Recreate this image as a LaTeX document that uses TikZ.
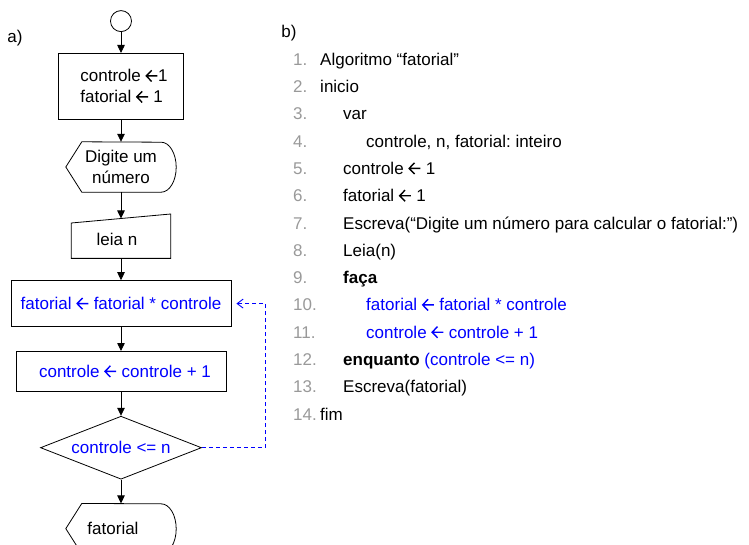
\documentclass[tikz,border=0pt]{standalone}
\usepackage{fontspec}
\setmainfont{Liberation Sans}
\usetikzlibrary{arrows,arrows.meta,shapes.geometric}

% seta de atribuicao
\newcommand{\seta}{\tikz[baseline=0pt, x=1pt, y=1pt, line width=1.4pt]
  \draw (12,6) -- (0.8,6) (6.2,11.6) -- (0.8,6) -- (6.2,0.4);}

\newcommand{\dispoutline}[1]{%
  \draw[outline] ([xshift=16pt]#1.north west) -- (#1.west)
    -- ([xshift=16pt]#1.south west) -- ([xshift=-15pt]#1.south east)
    arc[start angle=-90, end angle=90, x radius=15pt, y radius=25pt] -- cycle;}

\begin{document}
\frenchspacing
\begin{tikzpicture}[x=1pt, y=-1pt,
    every node/.style={font=\fontsize{17}{21}\selectfont},
    outline/.style={line width=0.8pt},
    flow/.style={-{Triangle[length=8pt,width=7.5pt]}, line width=0.8pt},
    box/.style={draw, line width=0.8pt, inner sep=0pt},
    hidden/.style={inner sep=0pt, align=center},
    num/.style={text=black!40},
    loopback/.style={-{Straight Barb[length=6pt,width=9pt]}, dash pattern=on 4pt off 3pt, blue, line width=0.9pt, shorten >=5pt}]
  \useasboundingbox (0,0) rectangle (749,545);

  \node (lbla) at (15,38) {a)};
  \node (lblb) at (289,33) {b)};

  % fluxograma
  \matrix (flux) [anchor=north, inner sep=0pt, row sep=22pt, ampersand replacement=\&] at (121,10) {
    \node[circle, draw, line width=0.8pt, minimum size=21pt, inner sep=0pt] (inicio) {};\\[-1pt]
    \node[box, minimum width=125pt, minimum height=66pt, align=left] (atrib) {\hspace*{6pt}controle \seta1\\\hspace*{6pt}fatorial \seta\ 1};\\
    \node[hidden, minimum width=110pt, minimum height=50pt] (msg) {Digite um\\número};\\
    \node[hidden, minimum width=99pt, minimum height=44pt, text height=18pt, text depth=0pt] (leia) {\hspace*{-8pt}leia n};\\
    \node[box, text=blue, minimum width=220pt, minimum height=46pt] (calc) {fatorial \seta\ fatorial * controle};\\[2pt]
    \node[box, text=blue, minimum width=210pt, minimum height=40pt] (incr) {\hspace*{8pt}controle \seta\ controle + 1};\\[2pt]
    \node[diamond, aspect=2.56, draw, line width=0.8pt, text=blue, inner sep=0pt, minimum width=161pt, minimum height=63pt] (cond) {controle <= n};\\[2pt]
    \node[hidden, minimum width=110pt, minimum height=50pt] (saida) {\hspace*{-16pt}fatorial};\\
  };
  \dispoutline{msg}
  \dispoutline{saida}
  \draw[outline] ([yshift=-9pt]leia.north west) -- (leia.north east)
    -- (leia.south east) -- (leia.south west) -- cycle;

  \draw[flow] (inicio) -- (atrib);
  \draw[flow] (atrib) -- (msg);
  \draw[flow] (msg) -- ([yshift=-4.5pt]leia.north);
  \draw[flow] (leia) -- (calc);
  \draw[flow] (calc) -- (incr);
  \draw[flow] (incr) -- (cond);
  \draw[flow] (cond) -- (saida);
  \draw[loopback] (cond.east) -| ([xshift=34pt]calc.east) -- (calc.east);

  % algoritmo
  \matrix (prog) [anchor=north west, inner sep=0pt, row sep=10.3pt, column sep=3.4pt, ampersand replacement=\&,
      nodes={anchor=base west, inner sep=0pt, text height=13pt, text depth=4pt}] at (293,52) {
    \node[num] (n1) {1.}; \& \node (l1) {Algoritmo “fatorial”};\\
    \node[num] (n2) {2.}; \& \node (l2) {inicio};\\
    \node[num] (n3) {3.}; \& \node (l3) {\hspace*{23pt}var};\\
    \node[num] (n4) {4.}; \& \node (l4) {\hspace*{46pt}controle, n, fatorial: inteiro};\\
    \node[num] (n5) {5.}; \& \node (l5) {\hspace*{23pt}controle \seta\ 1};\\
    \node[num] (n6) {6.}; \& \node (l6) {\hspace*{23pt}fatorial \seta\ 1};\\
    \node[num] (n7) {7.}; \& \node (l7) {\hspace*{23pt}Escreva(“Digite um número para calcular o fatorial:”)};\\
    \node[num] (n8) {8.}; \& \node (l8) {\hspace*{23pt}Leia(n)};\\
    \node[num] (n9) {9.}; \& \node (l9) {\hspace*{23pt}\textbf{faça}};\\
    \node[num] (n10) {10.}; \& \node[text=blue] (l10) {\hspace*{46pt}fatorial \seta\ fatorial * controle};\\
    \node[num] (n11) {11.}; \& \node[text=blue] (l11) {\hspace*{46pt}controle \seta\ controle + 1};\\
    \node[num] (n12) {12.}; \& \node (l12) {\hspace*{23pt}\textbf{enquanto} \textcolor{blue}{(controle <= n)}};\\
    \node[num] (n13) {13.}; \& \node (l13) {\hspace*{23pt}Escreva(fatorial)};\\
    \node[num] (n14) {14.}; \& \node (l14) {fim};\\
  };
\end{tikzpicture}
\end{document}
